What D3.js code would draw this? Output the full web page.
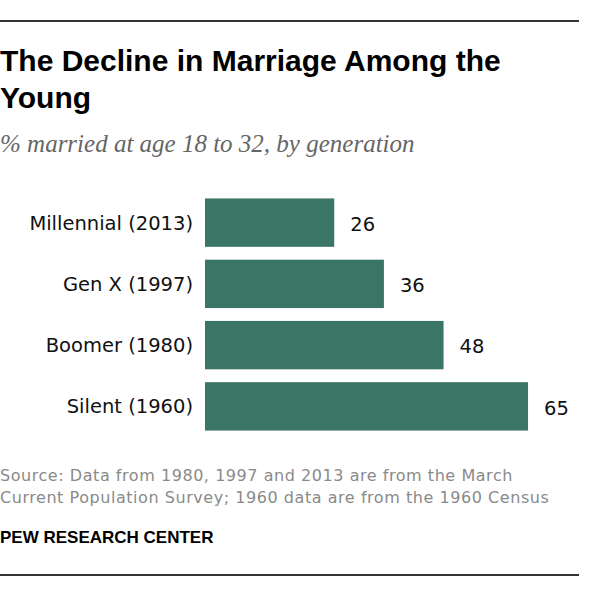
<!DOCTYPE html>
<html>
<head>
<meta charset="utf-8">
<script src="https://cdn.jsdelivr.net/npm/d3@7"></script>
<style>
  body { margin: 0; background: #fff; }
  svg { display: block; }
</style>
</head>
<body>
<script>
// chart data
const generations = ['Millennial (2013)', 'Gen X (1997)', 'Boomer (1980)', 'Silent (1960)'];
const marriedPct = [26, 36, 48, 65];
const titleLines = ['The Decline in Marriage Among the', 'Young'];
const subtitle = '% married at age 18 to 32, by generation';
const sourceLines = [
  'Source: Data from 1980, 1997 and 2013 are from the March',
  'Current Population Survey; 1960 data are from the 1960 Census'
];
const credit = 'PEW RESEARCH CENTER';

const width = 600;
const height = 600;

const svg = d3.select('body').append('svg')
  .attr('width', width)
  .attr('height', height);

// rules top and bottom
svg.append('rect').attr('x', 0).attr('y', 20).attr('width', 579).attr('height', 2).attr('fill', '#333');
svg.append('rect').attr('x', 0).attr('y', 574).attr('width', 579).attr('height', 2).attr('fill', '#333');

// title
svg.append('g').selectAll('text')
  .data(titleLines)
  .join('text')
  .attr('x', 0)
  .attr('y', (d, i) => 71 + i * 37)
  .attr('font-family', '"Liberation Sans", Arial, sans-serif')
  .attr('font-weight', 'bold')
  .attr('font-size', 30)
  .attr('fill', '#000')
  .text(d => d);

svg.append('text')
  .attr('x', 0)
  .attr('y', 152)
  .attr('font-family', '"Liberation Serif", Georgia, serif')
  .attr('font-style', 'italic')
  .attr('font-size', 25)
  .attr('fill', '#666')
  .text(subtitle);

// scales
const x = d3.scaleLinear().domain([0, 100]).range([205, 702]);
const y = d3.scaleBand()
  .domain(generations)
  .range([192, 437])
  .paddingInner(0.21)
  .paddingOuter(0.105);

const data = generations.map((g, i) => ({ name: g, value: marriedPct[i] }));

const bars = svg.append('g');
bars.selectAll('rect')
  .data(data)
  .join('rect')
  .attr('x', x(0))
  .attr('y', d => y(d.name))
  .attr('width', d => x(d.value) - x(0))
  .attr('height', y.bandwidth())
  .attr('fill', '#3a7565');

// category labels
svg.append('g').selectAll('text')
  .data(data)
  .join('text')
  .attr('x', 193)
  .attr('y', d => y(d.name) + y.bandwidth() / 2)
  .attr('dy', '0.36em')
  .attr('text-anchor', 'end')
  .attr('font-family', '"DejaVu Sans", sans-serif')
  .attr('font-size', 19.5)
  .attr('fill', '#111')
  .text(d => d.name);

// value labels
svg.append('g').selectAll('text')
  .data(data)
  .join('text')
  .attr('x', d => x(d.value) + 16)
  .attr('y', d => y(d.name) + y.bandwidth() / 2)
  .attr('dy', '0.42em')
  .attr('font-family', '"DejaVu Sans", sans-serif')
  .attr('font-size', 19.5)
  .attr('fill', '#111')
  .text(d => d.value);

// source
svg.append('g').selectAll('text')
  .data(sourceLines)
  .join('text')
  .attr('x', 0)
  .attr('y', (d, i) => 481 + i * 22)
  .attr('font-family', '"DejaVu Sans", sans-serif')
  .attr('font-size', 16)
  .attr('letter-spacing', 0.55)
  .attr('fill', '#8a8a8a')
  .text(d => d);

svg.append('text')
  .attr('x', 0)
  .attr('y', 543)
  .attr('font-family', '"Liberation Sans", Arial, sans-serif')
  .attr('font-weight', 'bold')
  .attr('font-size', 17)
  .attr('fill', '#000')
  .text(credit);
</script>
</body>
</html>
